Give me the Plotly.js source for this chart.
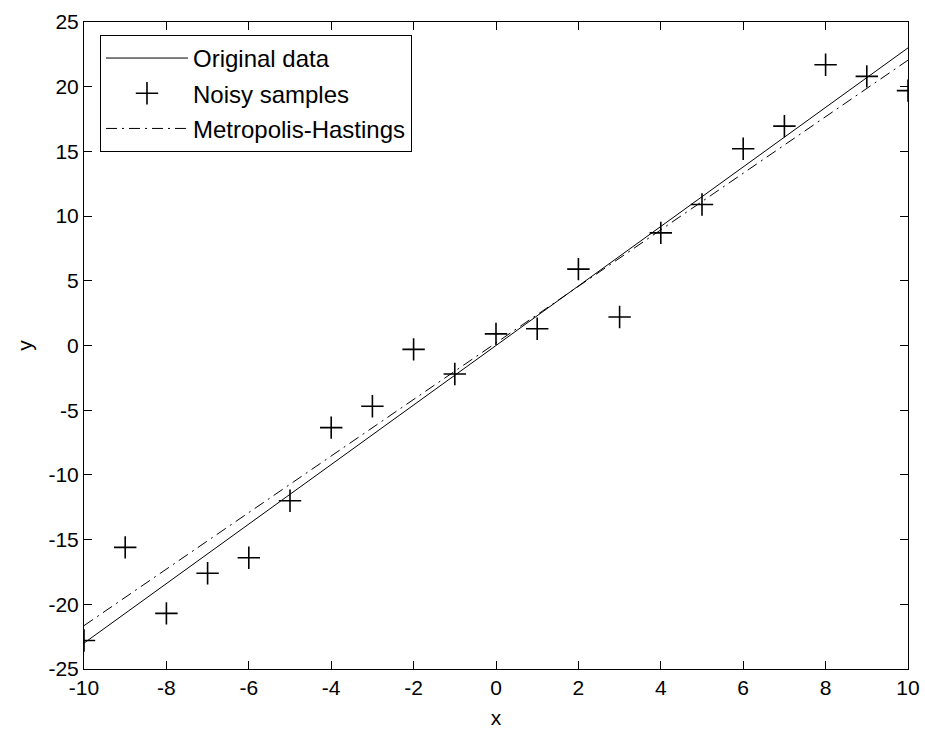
<!DOCTYPE html>
<html>
<head>
<meta charset="utf-8">
<script src="https://cdn.plot.ly/plotly-3.0.1.min.js"></script>
<style>html,body{margin:0;padding:0;background:#fff;}#chart{width:925px;height:736px;}</style>
</head>
<body>
<div id="chart"></div>
<script>
// Noisy samples
const sampleX = [-10, -9, -8, -7, -6, -5, -4, -3, -2, -1, 0, 1, 2, 3, 4, 5, 6, 7, 8, 9, 10];
const sampleY = [-22.8, -15.6, -20.7, -17.6, -16.4, -12.0, -6.35, -4.7, -0.3, -2.2, 0.9, 1.3, 5.9, 2.2, 8.7, 10.9, 15.2, 16.95, 21.7, 20.8, 19.7];
// Original data line (end points)
const origX = [-10, 10];
const origY = [-23.0, 23.0];
// Metropolis-Hastings fitted line
const mhX = [-10, 10];
const mhY = [-21.65, 22.05];

const xTicks = [-10, -8, -6, -4, -2, 0, 2, 4, 6, 8, 10];
const yTicks = [-25, -20, -15, -10, -5, 0, 5, 10, 15, 20, 25];

const font = {family: 'Liberation Sans, Arial, sans-serif', size: 21, color: '#000'};
const legendFont = {family: 'Liberation Sans, Arial, sans-serif', size: 24, color: '#000'};

const traces = [
  {x: origX, y: origY, mode: 'lines', name: 'Original data', legendgroup: 'a', line: {color: '#000', width: 1}},
  {x: sampleX, y: sampleY, mode: 'markers', name: 'Noisy samples', legendgroup: 'b',
   marker: {symbol: 'cross-thin-open', size: 16, color: '#000', line: {color: '#000', width: 1.6}}},
  {x: mhX, y: mhY, mode: 'lines', name: 'Metropolis-Hastings', legendgroup: 'c', line: {color: '#000', width: 1, dash: '11px,5px,2px,5px'}}
];

const axisCommon = {
  showgrid: false, zeroline: false, showline: true, linecolor: '#000', linewidth: 1,
  mirror: 'ticks', ticks: 'inside', ticklen: 8, tickcolor: '#000', tickwidth: 1,
  tickfont: font
};

const layout = {
  width: 925, height: 736,
  margin: {l: 84, r: 17, t: 22, b: 67},
  paper_bgcolor: '#fff', plot_bgcolor: '#fff',
  font: font,
  showlegend: true,
  legend: {x: 0.0194, y: 0.98, xanchor: 'left', yanchor: 'top', bgcolor: '#fff', bordercolor: '#000', borderwidth: 1,
           font: legendFont, traceorder: 'grouped', tracegroupgap: 1, itemwidth: 82},
  xaxis: Object.assign({}, axisCommon, {range: [-10, 10], tickvals: xTicks, ticktext: xTicks.map(String), title: {text: 'x', font: font, standoff: 12}}),
  yaxis: Object.assign({}, axisCommon, {range: [-25, 25], tickvals: yTicks, ticktext: yTicks.map(String), title: {text: 'y', font: font, standoff: 10}})
};

Plotly.newPlot('chart', traces, layout, {displayModeBar: false, staticPlot: true});
</script>
</body>
</html>
